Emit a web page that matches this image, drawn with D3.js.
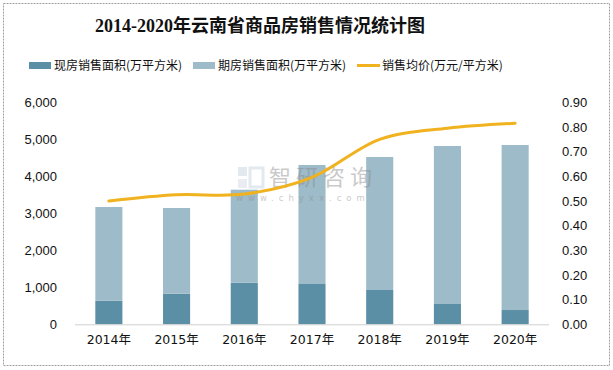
<!DOCTYPE html>
<html><head><meta charset="utf-8">
<script src="https://cdn.jsdelivr.net/npm/d3@7"></script>
<style>body{margin:0;background:#fff}svg{display:block}</style>
</head><body>
<script>
const years = ["2014年","2015年","2016年","2017年","2018年","2019年","2020年"];
const xianfang = [638, 827, 1124, 1089, 927, 549, 386];
const qifang = [2532, 2316, 2514, 3216, 3595, 4270, 4460];
const price = [0.50, 0.525, 0.528, 0.596, 0.75, 0.795, 0.815];
const leftTicks = [0,1000,2000,3000,4000,5000,6000];
const rightTicks = [0,0.1,0.2,0.3,0.4,0.5,0.6,0.7,0.8,0.9];
const seriesNames = ["现房销售面积(万平方米)","期房销售面积(万平方米)","销售均价(万元/平方米)"];
const colors = ["#5B8FA5","#9DBBC9","#F0B21E"];

const W=613,H=370;
const svg=d3.select("body").append("svg").attr("width",W).attr("height",H);
svg.append("rect").attr("x",3.5).attr("y",3.5).attr("width",606).attr("height",362)
  .attr("fill","#fff").attr("stroke","#a0a0a0").attr("stroke-dasharray","2,1");

svg.append("text").attr("x",260).attr("y",32).attr("text-anchor","middle")
  .attr("font-family","'Liberation Serif','Noto Sans CJK SC',serif").attr("font-weight","bold")
  .attr("font-size",18).attr("fill","#111").text("2014-2020年云南省商品房销售情况统计图");

// legend
const lg=[{x:29,t:"rect"},{x:193,t:"rect"},{x:357,t:"line"}];
lg.forEach((l,i)=>{
  if(l.t==="rect") svg.append("rect").attr("x",l.x).attr("y",62).attr("width",22).attr("height",7).attr("fill",colors[i]);
  else svg.append("line").attr("x1",l.x).attr("x2",l.x+23).attr("y1",65.5).attr("y2",65.5).attr("stroke",colors[i]).attr("stroke-width",3);
  svg.append("text").attr("x",l.x+25).attr("y",69.5).attr("font-family","'Noto Sans CJK SC',sans-serif")
    .attr("font-size",12).attr("fill","#111").text(seriesNames[i]);
});

const x=d3.scaleBand().domain(years).range([75,549]).paddingInner(0.6).paddingOuter(0.3);
const yL=d3.scaleLinear().domain([0,6000]).range([324.3,102.3]);
const yR=d3.scaleLinear().domain([0,0.9]).range([324.3,102.3]);

// bars
const stack=years.map((y,i)=>({y,a:xianfang[i],b:qifang[i]}));
svg.append("g").selectAll("rect.a").data(stack).join("rect")
  .attr("x",d=>x(d.y)).attr("width",x.bandwidth()).attr("y",d=>yL(d.a)).attr("height",d=>yL(0)-yL(d.a)).attr("fill",colors[0]);
svg.append("g").selectAll("rect.b").data(stack).join("rect")
  .attr("x",d=>x(d.y)).attr("width",x.bandwidth()).attr("y",d=>yL(d.a+d.b)).attr("height",d=>yL(d.a)-yL(d.a+d.b)).attr("fill",colors[1]);

// watermark (over bars)
const wm=svg.append("g").attr("opacity",0.45);
wm.append("rect").attr("x",238).attr("y",167).attr("width",9).attr("height",9).attr("fill","#c0cfdd");
wm.append("rect").attr("x",250).attr("y",168).attr("width",13).attr("height",19).attr("fill","none").attr("stroke","#c0cfdd").attr("stroke-width",3);
wm.append("rect").attr("x",238).attr("y",179).attr("width",9).attr("height",9).attr("fill","#d0d9e2");
wm.append("text").attr("x",269).attr("y",185).attr("font-family","'Noto Sans CJK SC',sans-serif")
  .attr("font-size",22).attr("fill","#8a8a8a").attr("letter-spacing",5).text("智研咨询");
wm.append("text").attr("x",236).attr("y",201).attr("font-family","'DejaVu Sans',sans-serif")
  .attr("font-size",8.5).attr("fill","#8a8a8a").attr("letter-spacing",5).text("www.chyxx.com");

// baseline
svg.append("line").attr("x1",75).attr("x2",549).attr("y1",324.8).attr("y2",324.8).attr("stroke","#d0d0d0").attr("stroke-width",1);

// line
const line=d3.line().x((d,i)=>x(years[i])+x.bandwidth()/2).y(d=>yR(d)).curve(d3.curveCatmullRom.alpha(0.5));
svg.append("path").datum(price).attr("d",line).attr("fill","none").attr("stroke",colors[2]).attr("stroke-width",3).attr("stroke-linecap","round");

// axes
const fmt=d3.format(",");
const gl=svg.append("g").attr("transform","translate(57,0)")
  .call(d3.axisLeft(yL).tickValues(leftTicks).tickFormat(fmt).tickSize(0).tickPadding(0));
const gr=svg.append("g").attr("transform","translate(562,0)")
  .call(d3.axisRight(yR).tickValues(rightTicks).tickFormat(d3.format(".2f")).tickSize(0).tickPadding(0));
const gx=svg.append("g").attr("transform","translate(0,330)")
  .call(d3.axisBottom(x).tickSize(0).tickPadding(5));
[gl,gr,gx].forEach(g=>{g.select(".domain").remove();
  g.selectAll("text").attr("font-family","'Liberation Sans','Noto Sans CJK SC',sans-serif").attr("font-size",13).attr("fill","#111");});
gx.selectAll("text").attr("font-family","'DejaVu Sans','Noto Sans CJK SC',sans-serif").attr("font-size",12.5);
</script>
</body></html>
